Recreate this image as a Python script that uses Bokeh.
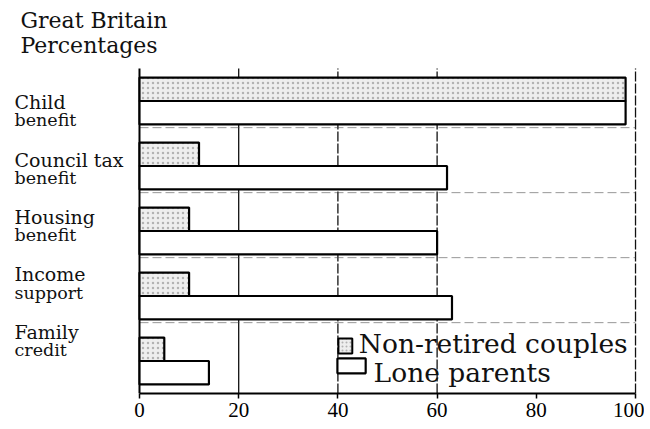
from bokeh.plotting import figure
from bokeh.models import Range1d, Label, LabelSet, ColumnDataSource, FixedTicker
from bokeh.embed import file_html
from bokeh.resources import INLINE
from bokeh.core.properties import value

# ---- data ----
categories = ["Child benefit", "Council tax benefit", "Housing benefit",
              "Income support", "Family credit"]
label_line1 = ["Child", "Council tax", "Housing", "Income", "Family"]
label_line2 = ["benefit", "benefit", "benefit", "support", "credit"]
couples = [98, 12, 10, 10, 5]
lone_parents = [98, 62, 60, 63, 14]
x_ticks = [0, 20, 40, 60, 80, 100]
grid_solid = [20]
grid_dashed = [40, 60, 100]
title_lines = ["Great Britain", "Percentages"]
legend_labels = ["Non-retired couples", "Lone parents"]

SERIF = "DejaVu Serif"
n = len(categories)
pos = [n - 1 - i for i in range(n)]          # Child benefit on top
bar_h = 0.36
y_lo, y_hi = -0.5, n - 0.5                   # plotting band

p = figure(width=644, height=425, output_backend="svg", toolbar_location=None,
           x_range=Range1d(-28.02, 101.81), y_range=Range1d(y_lo, 5.546),
           min_border_left=0, min_border_right=0, min_border_top=0,
           min_border_bottom=32)
p.outline_line_color = None
p.background_fill_color = "white"
p.border_fill_color = "white"
p.xgrid.visible = False
p.ygrid.visible = False
p.yaxis.visible = False

# vertical grid lines (under the bars)
p.segment(x0=grid_solid, x1=grid_solid, y0=[y_lo] * len(grid_solid),
          y1=[y_hi] * len(grid_solid), line_color="#111111", line_width=1.3)
p.segment(x0=grid_dashed, x1=grid_dashed, y0=[y_lo] * len(grid_dashed),
          y1=[y_hi] * len(grid_dashed), line_color="#111111", line_width=1.3,
          line_dash="10 2")
# faint category separators
sep = [k - 0.41 for k in pos[:-1]]
p.segment(x0=[0] * len(sep), x1=[100] * len(sep), y0=sep, y1=sep,
          line_color="#444444", line_width=1, line_dash="9 4", line_alpha=0.55)
# left axis line
p.segment(x0=[0], x1=[0], y0=[y_lo], y1=[y_hi], line_color="#000000", line_width=2)

src = ColumnDataSource(dict(
    y_c=[q + bar_h / 2 for q in pos], y_l=[q - bar_h / 2 for q in pos],
    couples=couples, lone=lone_parents))

bar_style = dict(line_color="#000000", line_width=2.2)
p.hbar(y="y_c", left=0, right="couples", height=bar_h, source=src,
       fill_color="#eeeeee", hatch_pattern="dot", hatch_color="#8a8a8a",
       hatch_scale=5, hatch_weight=1, hatch_alpha=0.6, **bar_style)
p.hbar(y="y_l", left=0, right="lone", height=bar_h, source=src,
       fill_color="white", **bar_style)

# x axis
p.xaxis.ticker = FixedTicker(ticks=x_ticks)
p.xaxis.bounds = (0, 100)
p.xaxis.axis_line_width = 2
p.xaxis.axis_line_color = "#000000"
p.xaxis.major_tick_line_width = 1.5
p.xaxis.major_tick_out = 5
p.xaxis.major_tick_in = 0
p.xaxis.minor_tick_out = 0
p.xaxis.minor_tick_in = 0
p.xaxis.major_label_standoff = 4
p.xaxis.major_label_text_font = "Liberation Serif"
p.xaxis.major_label_text_font_size = "21px"
p.xaxis.major_label_text_color = "#000000"

# category labels (two lines each, left aligned)
lab_x = -25.2
shift = [-0.16 + 0.117 * i for i in range(n)]
lab_src = ColumnDataSource(dict(
    x=[lab_x] * n,
    y1=[pos[i] + shift[i] + 0.14 for i in range(n)],
    y2=[pos[i] + shift[i] - 0.14 for i in range(n)],
    t1=label_line1, t2=label_line2))
p.add_layout(LabelSet(x="x", y="y1", text="t1", source=lab_src,
                      text_font=value(SERIF), text_font_size=value("19px"),
                      text_baseline="middle", text_align="left", text_color="#111111"))
p.add_layout(LabelSet(x="x", y="y2", text="t2", source=lab_src,
                      text_font=value(SERIF), text_font_size=value("17.5px"),
                      text_baseline="middle", text_align="left", text_color="#111111"))

# title block
p.add_layout(Label(x=-24.0, y=5.24, text=title_lines[0], text_font=SERIF,
                   text_font_size="22px", text_baseline="middle", text_color="#111111"))
p.add_layout(Label(x=-24.0, y=4.86, text=title_lines[1], text_font=SERIF,
                   text_font_size="22px", text_baseline="middle", text_color="#111111"))

# legend (drawn by hand)
p.quad(left=[40.1], right=[42.9], bottom=[0.115], top=[0.346],
       fill_color="#eeeeee", hatch_pattern="dot", hatch_color="#8a8a8a",
       hatch_scale=4, hatch_weight=1, hatch_alpha=0.6, line_color="black", line_width=2)
p.quad(left=[39.9], right=[45.6], bottom=[-0.19], top=[0.04],
       fill_color="white", line_color="black", line_width=2.2)
p.add_layout(Label(x=44.2, y=0.27, text=legend_labels[0], text_font=SERIF,
                   text_font_size="26.5px", text_baseline="middle", text_color="#111111"))
p.add_layout(Label(x=47.2, y=-0.18, text=legend_labels[1], text_font=SERIF,
                   text_font_size="26.5px", text_baseline="middle", text_color="#111111"))

open("out.html", "w").write(file_html(p, INLINE))
